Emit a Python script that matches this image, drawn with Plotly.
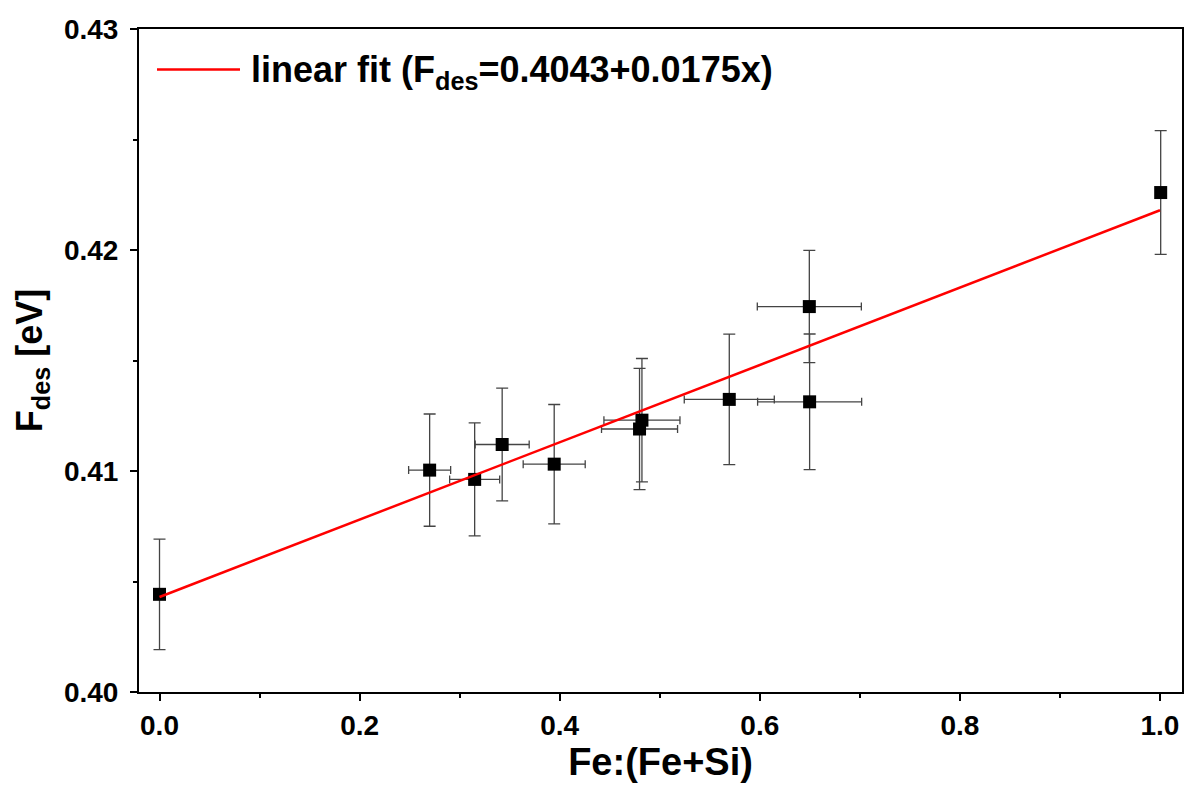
import plotly.graph_objects as go

# Data
fe_ratio = [0.0, 0.270, 0.315, 0.3425, 0.3945, 0.4798, 0.4822, 0.5695, 0.6498, 0.6495, 1.0007]
f_des = [0.40442, 0.41004, 0.40962, 0.41120, 0.41031, 0.41190, 0.41230, 0.41324, 0.41313, 0.41744, 0.42260]
x_err = [0.0, 0.021, 0.025, 0.027, 0.031, 0.038, 0.038, 0.045, 0.052, 0.052, 0.0]
y_err = [0.00250, 0.00254, 0.00256, 0.00255, 0.00270, 0.00274, 0.00279, 0.00295, 0.00307, 0.00254, 0.00280]

fit_intercept = 0.4043
fit_slope = 0.0175
fit_x = [0.0, 1.0]
fit_y = [fit_intercept + fit_slope * v for v in fit_x]

x_ticks = [0.0, 0.2, 0.4, 0.6, 0.8, 1.0]
x_ticklabels = ["0.0", "0.2", "0.4", "0.6", "0.8", "1.0"]
y_ticks = [0.40, 0.41, 0.42, 0.43]
y_ticklabels = ["0.40", "0.41", "0.42", "0.43"]

FONT = "Liberation Sans, Arial, sans-serif"

fig = go.Figure()

fig.add_trace(go.Scatter(
    x=fe_ratio, y=f_des, mode="markers",
    marker=dict(symbol="square", size=13, color="black"),
    error_x=dict(type="data", array=x_err, visible=True, color="#444", thickness=1.3, width=4),
    error_y=dict(type="data", array=y_err, visible=True, color="#444", thickness=1.3, width=6),
    showlegend=False,
))

fig.add_trace(go.Scatter(
    x=fit_x, y=fit_y, mode="lines",
    line=dict(color="#ff0000", width=2.5),
    showlegend=False,
))

# manual legend
PW, PH = 1043.0, 662.5
fig.add_shape(type="line", xref="paper", yref="paper",
              x0=(157 - 139) / PW, x1=(240 - 139) / PW,
              y0=(692 - 70) / PH, y1=(692 - 70) / PH,
              line=dict(color="#ff0000", width=2.5))
fig.add_annotation(xref="paper", yref="paper",
                   x=(249 - 139) / PW, y=(692 - 72) / PH,
                   xanchor="left", yanchor="middle", showarrow=False,
                   text="<b>linear fit (F<sub>des</sub>=0.4043+0.0175x)</b>",
                   font=dict(family=FONT, size=36, color="black"))

fig.update_layout(
    width=1184, height=785,
    margin=dict(l=139, r=2, t=29, b=93, autoexpand=False),
    plot_bgcolor="white", paper_bgcolor="white",
    font=dict(family=FONT, color="black"),
    xaxis=dict(
        range=[-0.0205, 1.022],
        tickvals=x_ticks, ticktext=["<b>%s</b>" % t for t in x_ticklabels],
        ticks="outside", ticklen=7, tickwidth=2, tickcolor="black",
        minor=dict(tickvals=[0.1, 0.3, 0.5, 0.7, 0.9], ticks="outside", ticklen=4, tickwidth=2, tickcolor="black"),
        showline=True, linecolor="black", linewidth=2, mirror=True,
        showgrid=False, zeroline=False,
        tickfont=dict(size=28, family=FONT),
        title=dict(text="<b>Fe:(Fe+Si)</b>", font=dict(size=38, family=FONT), standoff=5),
    ),
    yaxis=dict(
        range=[0.40, 0.43],
        tickvals=y_ticks, ticktext=["<b>%s</b>" % t for t in y_ticklabels],
        ticks="outside", ticklen=7, tickwidth=2, tickcolor="black",
        minor=dict(tickvals=[0.405, 0.415, 0.425], ticks="outside", ticklen=4, tickwidth=2, tickcolor="black"),
        showline=True, linecolor="black", linewidth=2, mirror=True,
        showgrid=False, zeroline=False,
        tickfont=dict(size=28, family=FONT),
        ticklabelstandoff=6,
        title=dict(text="<b>F<sub>des</sub> [eV]</b>", font=dict(size=36, family=FONT), standoff=10),
    ),
)

fig.write_html("out.html", config={"displayModeBar": False},
               post_script="document.body.style.margin='0';document.body.style.padding='0';")
